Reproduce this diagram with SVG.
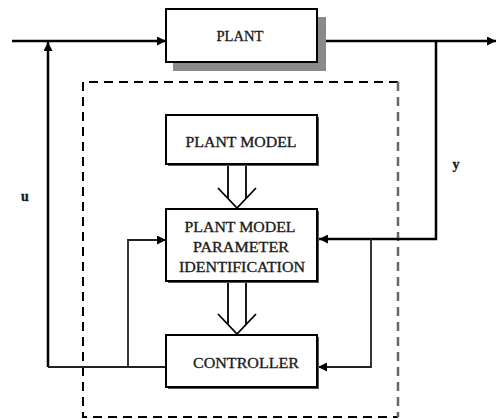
<svg xmlns="http://www.w3.org/2000/svg" width="496" height="419" viewBox="0 0 496 419">
<style>
.box{fill:#fff;stroke:#000;stroke-width:2}
.sh{fill:#8a8a8a}
.sh2{fill:#555}
.t{font-family:"Liberation Serif","Times New Roman",serif;font-size:14px;fill:#1a1a1a;stroke:#1a1a1a;stroke-width:0.3;text-anchor:middle}
.w{fill:none;stroke:#000;stroke-width:2.5}
.n{fill:none;stroke:#222;stroke-width:1.8}
.d{fill:none;stroke:#000;stroke-width:2;stroke-dasharray:9 6}
.o{fill:none;stroke:#000;stroke-width:1.8}
</style>
<defs>
<marker id="ah" viewBox="0 0 10 10" refX="10" refY="5" markerWidth="10" markerHeight="9" markerUnits="userSpaceOnUse" orient="auto">
<path d="M0,0 L10,5 L0,10 Z" fill="#000"/>
</marker>
</defs>
<rect width="496" height="419" fill="#fff"/>
<g id="boundary">
<path class="d" d="M398,82 H83 V417 H398"/>
<line x1="398" y1="82" x2="398" y2="417" stroke="#666" stroke-width="2.5" stroke-dasharray="9 6"/>
</g>
<g id="connectors">
<line class="w" x1="12" y1="41" x2="166" y2="41" marker-end="url(#ah)"/>
<line class="w" x1="317" y1="41" x2="496" y2="41" marker-end="url(#ah)"/>
<polyline class="w" points="436,41 436,239 319,239" marker-end="url(#ah)"/>
<polyline class="n" points="371,239 371,367 318,367" marker-end="url(#ah)"/>
<line class="w" x1="48" y1="367" x2="48" y2="42" marker-end="url(#ah)"/>
<line class="n" x1="48" y1="367" x2="166" y2="367"/>
<polyline class="n" points="128,367 128,240 166,240" marker-end="url(#ah)"/>
<path class="o" d="M228,165 V198.5 M246,165 V198.5 M218,188 L237,208 L256,188"/>
<path class="o" d="M228,282 V324.5 M246,282 V324.5 M218,314 L237,334 L256,314"/>
</g>
<g id="plant">
<rect class="sh" x="173" y="17" width="153" height="54"/>
<rect class="box" x="166" y="9" width="151" height="53"/>
<text class="t" x="240" y="41" textLength="47" lengthAdjust="spacingAndGlyphs">PLANT</text>
</g>
<g id="plant-model">
<rect class="sh2" x="168" y="117" width="151" height="49"/>
<rect class="box" x="166" y="115" width="151" height="49"/>
<text class="t" x="241" y="147" textLength="111" lengthAdjust="spacingAndGlyphs">PLANT MODEL</text>
</g>
<g id="identification">
<rect class="sh2" x="168" y="211" width="151" height="72"/>
<rect class="box" x="166" y="209" width="151" height="72"/>
<text class="t" x="240" y="232" textLength="111" lengthAdjust="spacingAndGlyphs">PLANT MODEL</text>
<text class="t" x="241" y="252" textLength="96" lengthAdjust="spacingAndGlyphs">PARAMETER</text>
<text class="t" x="242" y="272" textLength="126" lengthAdjust="spacingAndGlyphs">IDENTIFICATION</text>
</g>
<g id="controller">
<rect class="sh2" x="168" y="337" width="151" height="52"/>
<rect class="box" x="166" y="335" width="151" height="52"/>
<text class="t" x="246" y="368" textLength="106" lengthAdjust="spacingAndGlyphs">CONTROLLER</text>
</g>
<g id="labels">
<text class="t" x="25" y="201" font-weight="bold">u</text>
<text class="t" x="456" y="169" font-weight="bold">y</text>
</g>
</svg>
